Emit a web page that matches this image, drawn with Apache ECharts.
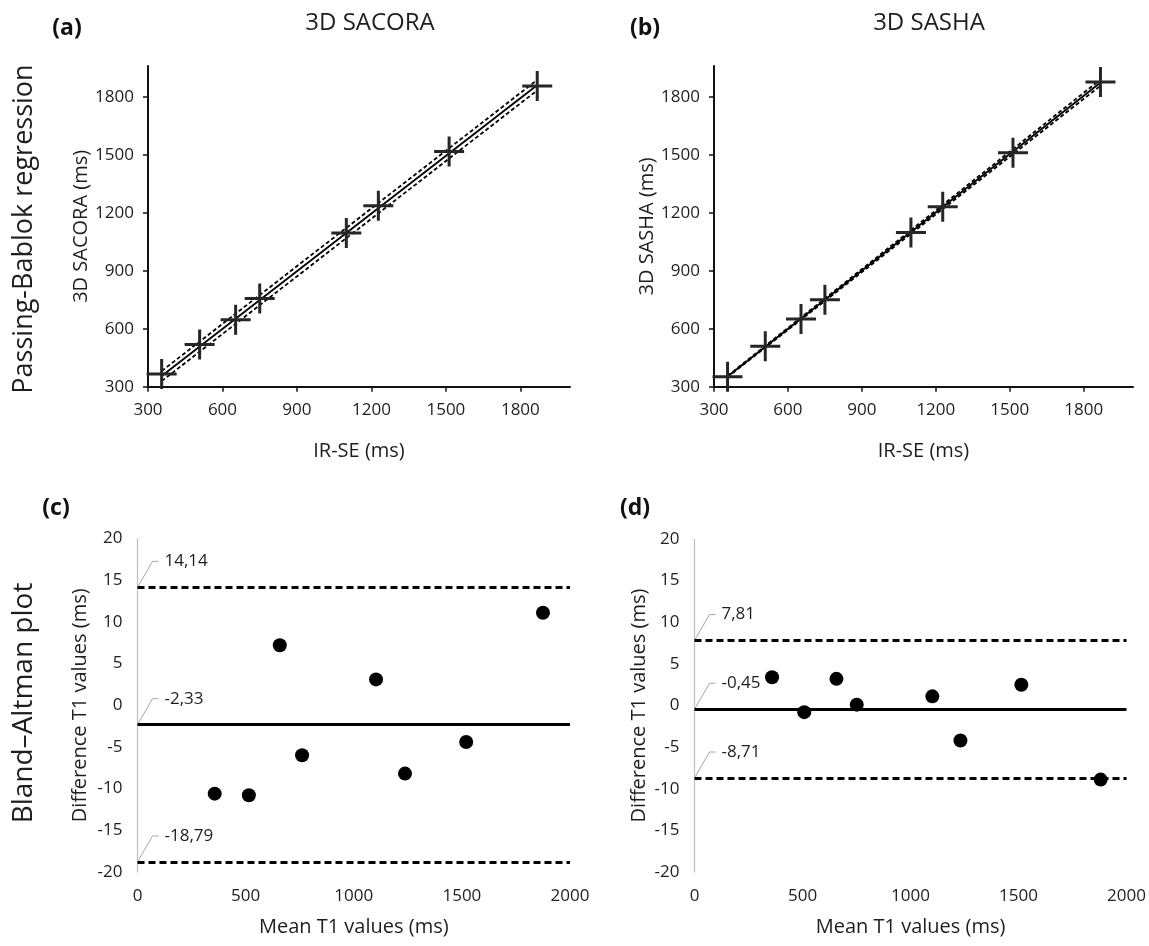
<!DOCTYPE html>
<html>
<head>
<meta charset="utf-8">
<script src="https://cdn.jsdelivr.net/npm/echarts@6/dist/echarts.min.js"></script>
<style>
  html, body { margin: 0; padding: 0; background: #fff; }
  #chart { width: 1149px; height: 946px; }
</style>
</head>
<body>
<div id="chart"></div>
<script>
// T1 (ms) of the eight phantom vials: IR-SE reference vs. the two 3D mapping methods
const irse   = [355, 508, 653, 750, 1099, 1228, 1513, 1868];
const sacora = [366, 519, 646, 756, 1096, 1236, 1517, 1857];
const sasha  = [352, 509, 650, 750, 1098, 1232, 1511, 1877];

// Passing-Bablok fit and 95% confidence limits: values at the two ends of the fit
const fitX        = [355, 1862];
const sacoraFit   = [355, 1855];
const sacoraUpper = [381, 1882];
const sacoraLower = [329, 1828];
const sashaFit    = [353, 1868];
const sashaUpper  = [356, 1884];
const sashaLower  = [350, 1852];

// Bland-Altman: mean T1 and difference T1 (ms)
const baSacoraMean = [357, 515, 658, 761, 1103, 1237, 1520, 1875];
const baSacoraDiff = [-10.6, -10.8, 7.2, -6.0, 3.1, -8.2, -4.4, 11.1];
const baSashaMean  = [359, 508, 657, 751, 1101, 1231, 1513, 1880];
const baSashaDiff  = [3.4, -0.8, 3.2, 0.1, 1.1, -4.2, 2.5, -8.9];

// bias and limits of agreement: [upper, bias, lower]
const sacoraLimits = [14.14, -2.33, -18.79];
const sashaLimits  = [7.81, -0.45, -8.71];

// axis ticks
const regTicks = [300, 600, 900, 1200, 1500, 1800];

const chart = echarts.init(document.getElementById('chart'));
const FONT = "'Open Sans', sans-serif";
const INK = '#1e1e1e';
const TICK = 17;
const NAME = 20;

const pairs = (xs, ys) => xs.map((x, i) => [x, ys[i]]);
const plain = v => String(v);
const crossPath = 'path://M0,9H20V11H0Z M9,0H11V20H9Z';

function regX(gi) {
  return {
    gridIndex: gi, type: 'value', min: 300, max: 2000, interval: 300,
    name: 'IR-SE (ms)', nameLocation: 'middle', nameGap: 55,
    nameTextStyle: { fontFamily: FONT, fontSize: NAME, color: INK },
    axisLine: { show: true, onZero: false, lineStyle: { color: '#111', width: 2 } },
    axisTick: { show: true, length: 5, customValues: regTicks, lineStyle: { color: '#111', width: 1.5 } },
    axisLabel: { customValues: regTicks, formatter: plain, fontFamily: FONT, fontSize: TICK, color: INK, margin: 15 },
    splitLine: { show: false }
  };
}
function regY(gi, name) {
  return {
    gridIndex: gi, type: 'value', min: 300, max: 1960, interval: 300,
    name, nameLocation: 'middle', nameGap: 57, nameRotate: 90,
    nameTextStyle: { fontFamily: FONT, fontSize: NAME, color: INK },
    axisLine: { show: true, onZero: false, lineStyle: { color: '#111', width: 2 } },
    axisTick: { show: true, length: 5, customValues: regTicks, lineStyle: { color: '#111', width: 1.5 } },
    axisLabel: { customValues: regTicks, formatter: plain, fontFamily: FONT, fontSize: TICK, color: INK, margin: 14 },
    splitLine: { show: false }
  };
}
function baX(gi) {
  return {
    gridIndex: gi, type: 'value', min: 0, max: 2000, interval: 500,
    name: 'Mean T1 values (ms)', nameLocation: 'middle', nameGap: 45,
    nameTextStyle: { fontFamily: FONT, fontSize: NAME, color: INK },
    axisLine: { show: false }, axisTick: { show: false },
    axisLabel: { formatter: plain, fontFamily: FONT, fontSize: TICK, color: INK, margin: 16 },
    splitLine: { show: false }
  };
}
function baY(gi, gap) {
  return {
    gridIndex: gi, type: 'value', min: -20, max: 20, interval: 5,
    name: 'Difference T1 values (ms)', nameLocation: 'middle', nameGap: gap, nameRotate: 90,
    nameTextStyle: { fontFamily: FONT, fontSize: NAME, color: INK },
    axisLine: { show: true, onZero: false, lineStyle: { color: '#bfbfbf', width: 1.2 } },
    axisTick: { show: false },
    axisLabel: { formatter: plain, fontFamily: FONT, fontSize: TICK, color: INK, margin: 15 },
    splitLine: { show: false }
  };
}

function fitLine(gi, ys, dashed) {
  return {
    type: 'line', xAxisIndex: gi, yAxisIndex: gi, data: pairs(fitX, ys),
    symbol: 'none', silent: true, z: 2,
    lineStyle: { color: '#000', width: 1.8, type: dashed ? [4, 2.5] : 'solid' }
  };
}
function crosses(gi, ys) {
  return {
    type: 'scatter', xAxisIndex: gi, yAxisIndex: gi, data: pairs(irse, ys),
    symbol: crossPath, symbolSize: 30, z: 3,
    itemStyle: { color: '#262626', opacity: 1 }
  };
}
function baSeries(gi, xs, ys, limits) {
  const dash = { color: '#000', width: 3, type: [7, 4] };
  return {
    type: 'scatter', xAxisIndex: gi, yAxisIndex: gi, data: pairs(xs, ys),
    symbol: 'circle', symbolSize: 14, itemStyle: { color: '#000', opacity: 1 }, z: 3,
    markLine: {
      silent: true, symbol: 'none', animation: false, label: { show: false },
      data: [
        { yAxis: limits[0], lineStyle: dash },
        { yAxis: limits[1], lineStyle: { color: '#000', width: 3, type: 'solid' } },
        { yAxis: limits[2], lineStyle: dash }
      ]
    }
  };
}

chart.setOption({
  animation: false,
  grid: [
    { left: 148, top: 66, width: 422, height: 320.7 },
    { left: 714, top: 66, width: 419, height: 320.7 },
    { left: 137.5, top: 538.5, width: 432.5, height: 333.5 },
    { left: 694.5, top: 539, width: 433, height: 333 }
  ],
  xAxis: [regX(0), regX(1), baX(2), baX(3)],
  yAxis: [regY(0, '3D SACORA (ms)'), regY(1, '3D SASHA (ms)'), baY(2, 47), baY(3, 45)],
  series: [
    fitLine(0, sacoraFit, false), fitLine(0, sacoraUpper, true), fitLine(0, sacoraLower, true),
    crosses(0, sacora),
    fitLine(1, sashaFit, false), fitLine(1, sashaUpper, true), fitLine(1, sashaLower, true),
    crosses(1, sasha),
    baSeries(2, baSacoraMean, baSacoraDiff, sacoraLimits),
    baSeries(3, baSashaMean, baSashaDiff, sashaLimits)
  ]
});

// static texts: panel letters, column titles and row headings
function txt(text, x, y, size, extra) {
  return {
    type: 'text', x, y, silent: true, rotation: (extra && extra.rotation) || 0,
    style: {
      text, fontFamily: FONT, fontSize: size, fill: (extra && extra.fill) || INK,
      fontWeight: (extra && extra.weight) || 'normal', align: 'center', verticalAlign: 'middle'
    }
  };
}
const bold = { weight: 'bold', fill: '#111' };
const statics = [
  txt('(a)', 67, 28, 23, bold),
  txt('(b)', 645, 28, 23, bold),
  txt('(c)', 56, 508, 23, bold),
  txt('(d)', 635, 508, 23, bold),
  txt('3D SACORA', 370, 23, 24),
  txt('3D SASHA', 929, 23, 24),
  txt('Passing-Bablok regression', 24, 229, 27, { rotation: Math.PI / 2 }),
  txt('Bland\u2013Altman plot', 24, 703, 28, { rotation: Math.PI / 2 })
];

// limit labels with their leader lines, anchored at the y axis
const fmt = v => v.toFixed(2).replace('.', ',');
function notes(gi, limits) {
  const out = [];
  limits.forEach(v => {
    const p = chart.convertToPixel({ gridIndex: gi }, [0, v]);
    out.push({
      type: 'polyline', silent: true,
      shape: { points: [[p[0], p[1]], [p[0] + 15, p[1] - 26], [p[0] + 21, p[1] - 26]] },
      style: { stroke: '#a6a6a6', lineWidth: 1, fill: null }
    });
    out.push({
      type: 'text', x: p[0] + 27, y: p[1] - 26, silent: true,
      style: { text: fmt(v), fontFamily: FONT, fontSize: TICK, fill: INK, align: 'left', verticalAlign: 'middle' }
    });
  });
  return out;
}

chart.setOption({ graphic: statics.concat(notes(2, sacoraLimits), notes(3, sashaLimits)) });
</script>
</body>
</html>
